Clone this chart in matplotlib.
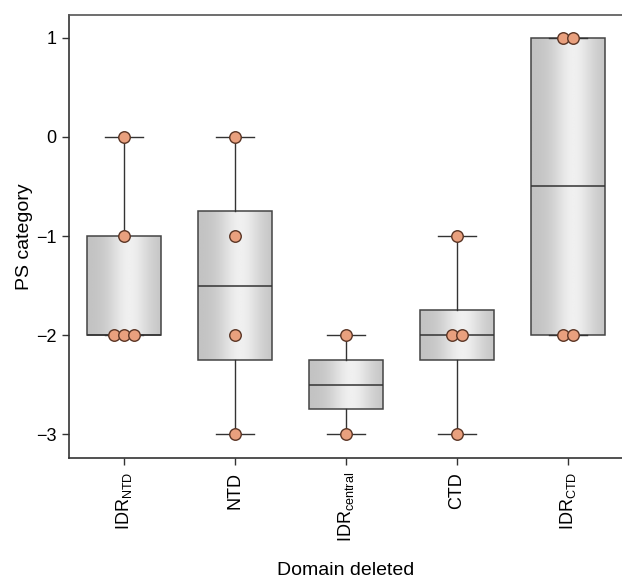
import numpy as np
import matplotlib
matplotlib.use("Agg")
import matplotlib.pyplot as plt

plt.rcParams['font.family'] = ['Liberation Sans', 'DejaVu Sans']
plt.rcParams['mathtext.fontset'] = 'custom'
plt.rcParams['mathtext.rm'] = 'Liberation Sans'
plt.rcParams['mathtext.it'] = 'Liberation Sans'
plt.rcParams['mathtext.default'] = 'regular'

categories = ["IDR$_{NTD}$", "NTD", "IDR$_{central}$", "CTD", "IDR$_{CTD}$"]
idr_ntd = [0, -1, -2, -2, -2]
ntd = [0, -1, -2, -3]
idr_central = [-2, -3]
ctd = [-1, -2, -2, -3]
idr_ctd = [1, 1, -2, -2]
series = [idr_ntd, ntd, idr_central, ctd, idr_ctd]
yticks = [-3, -2, -1, 0, 1]

W, H = 622, 579
fig = plt.figure(figsize=(W / 100, H / 100), dpi=100)
ax = fig.add_axes([68.5 / W, 1 - 458 / H, (623.5 - 68.5) / W, (458 - 15) / H])

positions = np.arange(1, len(series) + 1)
bp = ax.boxplot(series, positions=positions, widths=0.67, patch_artist=True,
                showfliers=False, whis=1.5,
                boxprops=dict(facecolor='none', edgecolor='#444444', linewidth=1.1),
                medianprops=dict(color='#333333', linewidth=1.1),
                whiskerprops=dict(color='#333333', linewidth=1.0),
                capprops=dict(color='#333333', linewidth=1.0),
                capwidths=0.35, zorder=2)

# gradient fill inside boxes
xg = np.linspace(0, 1, 256)
g = 0.76 + 0.18 * np.exp(-((xg - 0.57) / 0.28) ** 2)
grad = np.tile(g, (2, 1))
for box in bp['boxes']:
    verts = box.get_path().vertices
    x0, x1 = verts[:, 0].min(), verts[:, 0].max()
    y0, y1 = verts[:, 1].min(), verts[:, 1].max()
    im = ax.imshow(grad, cmap='gray', vmin=0, vmax=1, aspect='auto',
                   extent=[x0, x1, y0, y1], zorder=1.5, interpolation='bilinear')
    im.set_clip_path(box)

# swarm-style points
step = 0.094
for pos, vals in zip(positions, series):
    vals = np.array(vals)
    for v in np.unique(vals):
        n = int(np.sum(vals == v))
        offs = (np.arange(n) - (n - 1) / 2) * step
        ax.scatter(pos + offs, [v] * n, s=11.5 ** 2 * 0.52, facecolor='#e9a07e',
                   edgecolor='#5a3525', linewidth=1.0, zorder=4)

ax.set_xlim(0.5, 5.5)
ax.set_ylim(-3.242, 1.232)
ax.set_yticks(yticks)
ax.set_yticklabels([str(t).replace('-', '\u2212') for t in yticks])
ax.set_xticks(positions)
ax.set_xticklabels(categories, rotation=90)
ax.tick_params(axis='both', labelsize=13, length=5, width=1.0, color='#333333', direction='out')
ax.tick_params(axis='x', pad=5)
ax.set_ylabel("PS category", fontsize=14, labelpad=2)
ax.set_xlabel("Domain deleted", fontsize=14, labelpad=14)
for s in ax.spines.values():
    s.set_color('#333333')
    s.set_linewidth(1.2)
ax.spines['top'].set_color('#555555')

fig.savefig("out.png", dpi=100)
